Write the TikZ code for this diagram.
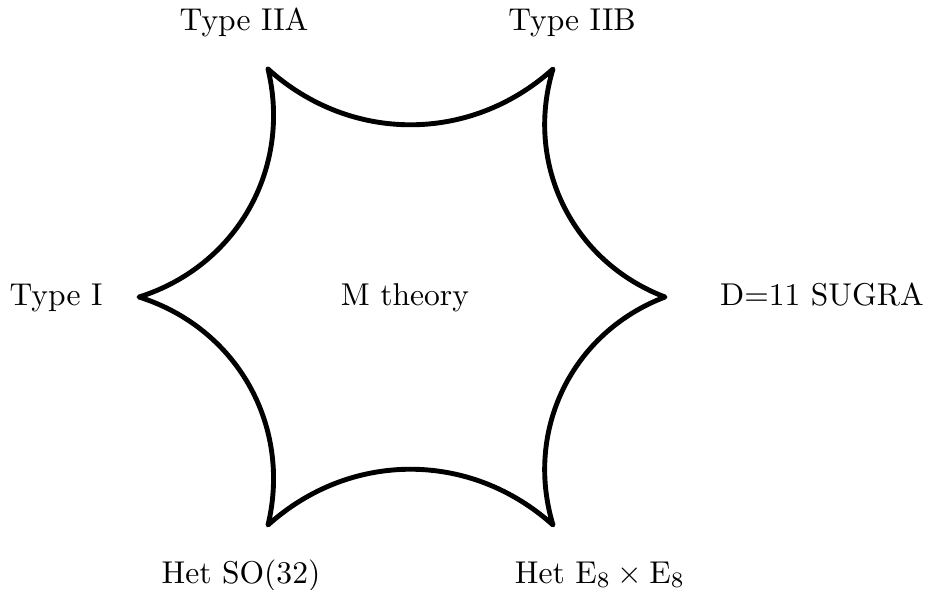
\documentclass[tikz,border=0pt]{standalone}
\begin{document}
\begin{tikzpicture}[x=0.317pt,y=-0.317pt,
  lbl/.style={anchor=base,inner sep=0pt,font=\fontsize{10}{12}\selectfont},
  edge/.style={line width=1.55pt,line join=round,line cap=round}]
\useasboundingbox (0,0) rectangle (931,589);
\coordinate (ta) at (268,69);
\coordinate (tb) at (553,69);
\coordinate (r) at (665,297);
\coordinate (bb) at (553,525);
\coordinate (ba) at (268,525);
\coordinate (l) at (139,297);
\draw[edge] (ta) to[bend right=42] (tb) to[bend right=43] (r) to[bend right=43] (bb)
  to[bend right=42] (ba) to[bend right=43] (l) to[bend right=43] (ta);
\node[lbl] (nIIA) at (244,30) {Type IIA};
\node[lbl] (nIIB) at (572,30) {Type IIB};
\node[lbl] (nI) at (56,305) {Type I};
\node[lbl] (nM) at (405,305) {M theory};
\node[lbl] (nD) at (822,305) {D=11 SUGRA};
\node[lbl] (nSO) at (241,583) {Het SO(32)};
\node[lbl] (nE) at (600,583) {Het $\mathrm{E}_8\times\mathrm{E}_8$};
\end{tikzpicture}
\end{document}
